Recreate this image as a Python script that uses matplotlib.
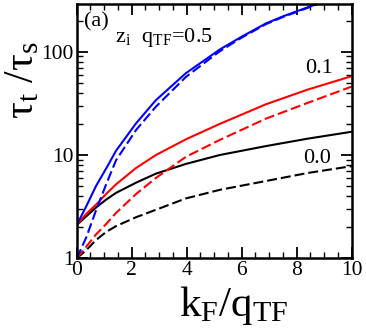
import matplotlib
matplotlib.use('Agg')
import matplotlib.pyplot as plt
from matplotlib.ticker import MultipleLocator, LogLocator, NullFormatter, FixedLocator, FixedFormatter

plt.rcParams['font.family'] = ['Liberation Serif', 'DejaVu Serif']
plt.rcParams['mathtext.fontset'] = 'custom'
plt.rcParams['mathtext.rm'] = 'Liberation Serif'
plt.rcParams['mathtext.it'] = 'Liberation Serif'

# kF/qTF positions where values were read
x_read = [0, 0.35, 0.7, 1.07, 1.43, 2.16, 2.88, 3.97, 5.2, 6.88, 8.4, 10]

# z_i q_TF = 0.0
black_solid = [2.1, 2.55, 3.1, 3.7, 4.3, 5.4, 6.6, 8.2, 10.0, 12.2, 14.4, 16.8]
black_dash = [1.0, 1.2, 1.5, 1.8, 2.05, 2.5, 2.95, 3.8, 4.6, 5.6, 6.7, 7.8]

# z_i q_TF = 0.1
red_solid = [2.1, 2.7, 3.3, 4.2, 5.2, 7.5, 10.0, 14.2, 20.0, 31.0, 43.0, 58.0]
red_dash = [1.0, 1.3, 1.7, 2.15, 2.75, 4.2, 6.0, 9.6, 14.0, 22.5, 32.0, 46.0]

# z_i q_TF = 0.5 (runs off the top)
x_blue = [0, 0.35, 0.7, 1.07, 1.43, 2.16, 2.88, 3.97, 5.2, 6.0, 6.88, 7.5, 8.73, 9.2]
blue_solid = [2.1, 3.2, 5.0, 7.4, 11.0, 20.3, 34.0, 62.0, 105.0, 140.0, 188.0, 220.0, 290.0, 320.0]
blue_dash = [1.0, 1.6, 2.9, 5.2, 8.9, 17.5, 29.4, 57.0, 101.0, 137.0, 185.0, 217.0, 287.0, 317.0]

dash = (0, (4.8, 1.9))
lw = 1.5

fig = plt.figure(figsize=(3.66, 3.32), dpi=100)
ax = fig.add_axes([0.2096, 0.222, 0.7514, 0.766])

ax.plot(x_read, black_solid, color='black', lw=lw)
ax.plot(x_read, black_dash, color='black', lw=lw, linestyle=dash)
ax.plot(x_read, red_solid, color='red', lw=lw)
ax.plot(x_read, red_dash, color='red', lw=lw, linestyle=dash)
ax.plot(x_blue, blue_solid, color='blue', lw=lw)
ax.plot(x_blue, blue_dash, color='blue', lw=lw, linestyle=dash)

ax.set_yscale('log')
ax.set_xlim(0, 10)
ax.set_ylim(1, 290)

ax.xaxis.set_major_locator(MultipleLocator(2))
ax.xaxis.set_minor_locator(MultipleLocator(0.5))
ax.yaxis.set_major_locator(FixedLocator([1, 10, 100]))
ax.yaxis.set_major_formatter(FixedFormatter(['1', '10', '100']))
ax.yaxis.set_minor_locator(LogLocator(base=10, subs=range(2, 10)))
ax.yaxis.set_minor_formatter(NullFormatter())

ax.tick_params(which='both', direction='in', top=True, right=True, labelsize=15.5)
ax.tick_params(which='major', length=8, width=1.3, pad=2)
ax.tick_params(which='minor', length=4, width=1.0)
for s in ax.spines.values():
    s.set_linewidth(1.8)

ax.set_xlabel(r'$\mathregular{k_F/q_{TF}}$', fontsize=31)
ax.set_ylabel(r'$\mathregular{\tau_t\ /\tau_s}$', fontsize=30)
ax.yaxis.set_label_coords(-0.125, 0.70)
ax.xaxis.set_label_coords(0.572, -0.10)

ax.text(0.025, 0.913, '(a)', transform=ax.transAxes, fontsize=16, va='baseline', ha='left')
ax.text(0.139, 0.851, r'$\mathregular{z_i\ \ q_{TF}}$=0.5', transform=ax.transAxes,
        fontsize=16, va='baseline', ha='left')
ax.text(0.932, 0.729, '0.1', transform=ax.transAxes, fontsize=16, ha='right', va='baseline')
ax.text(0.924, 0.375, '0.0', transform=ax.transAxes, fontsize=16, ha='right', va='baseline')

fig.savefig('out.png', dpi=100)
